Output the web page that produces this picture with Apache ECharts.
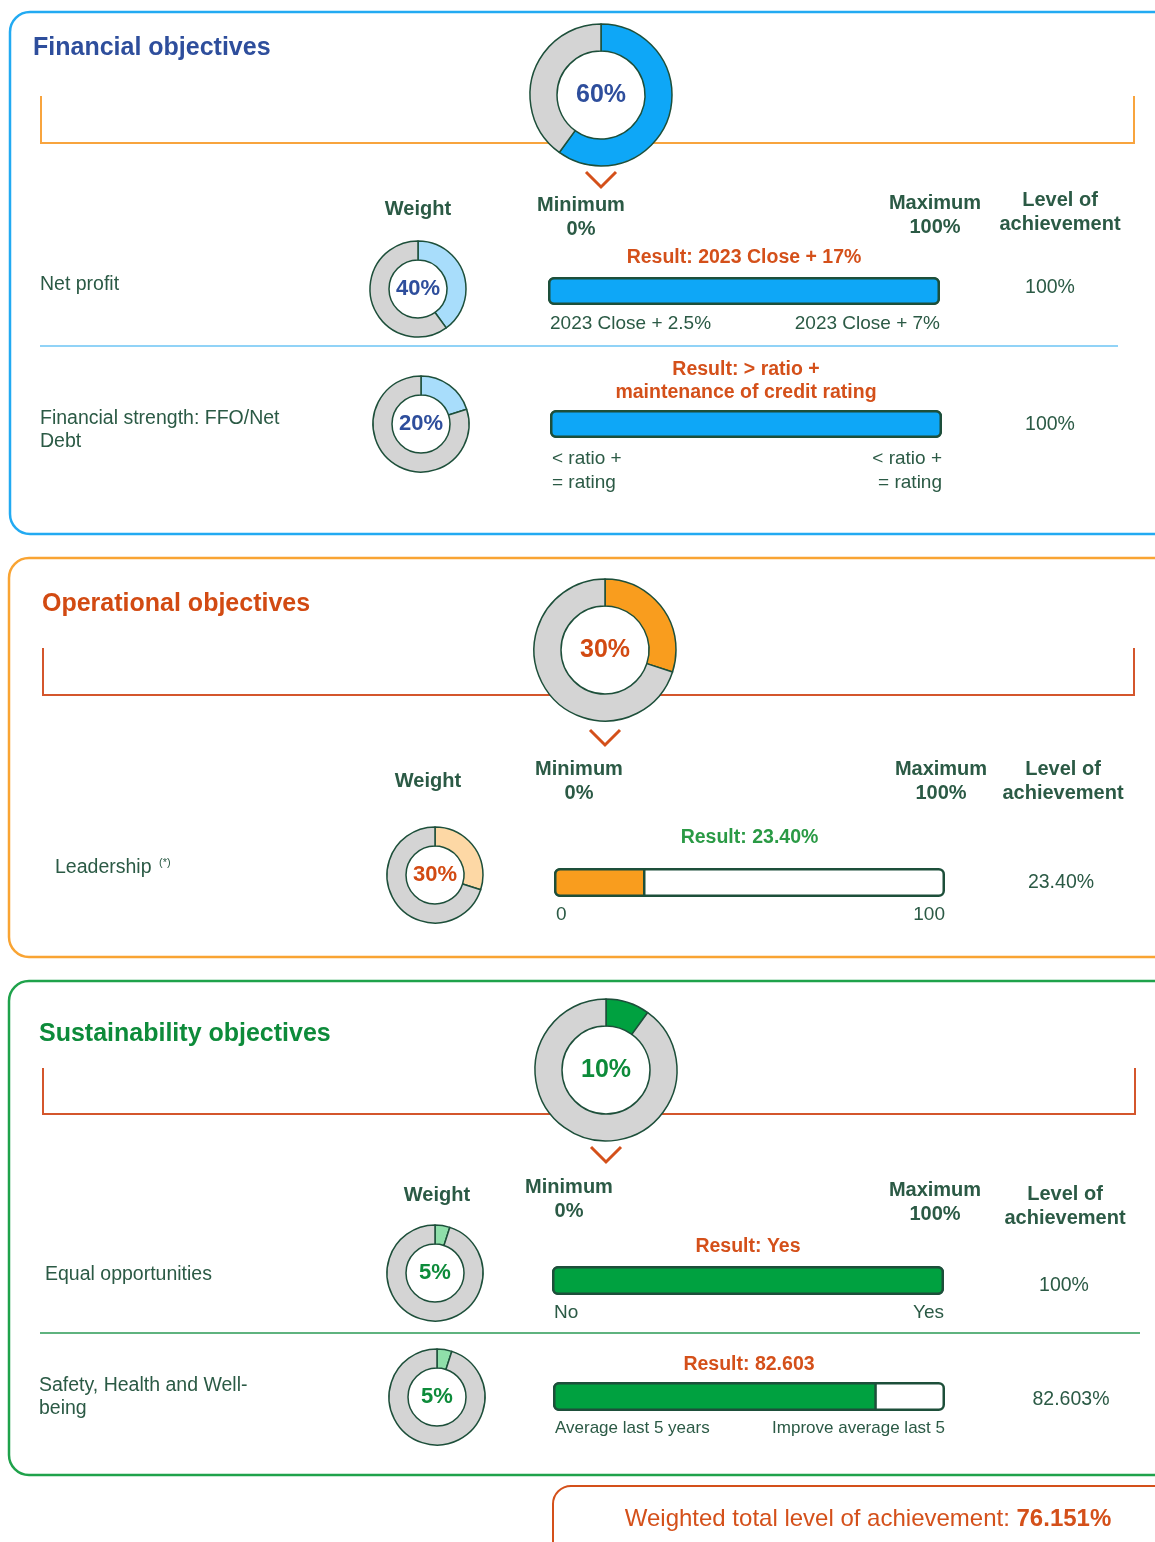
<!DOCTYPE html>
<html>
<head>
<meta charset="utf-8">
<script src="https://cdn.jsdelivr.net/npm/echarts@6/dist/echarts.min.js"></script>
<style>
  html, body { margin: 0; padding: 0; background: #fff; }
  #container { width: 1155px; height: 1542px; }
</style>
</head>
<body>
<div id="container"></div>
<script>
// ---- data ----
var sectionNames = ['Financial objectives', 'Operational objectives', 'Sustainability objectives'];
var sectionWeights = [60, 30, 10];
var itemNames = ['Net profit', 'Financial strength: FFO/Net\nDebt', 'Leadership', 'Equal opportunities', 'Safety, Health and Well-\nbeing'];
var itemSection = [0, 0, 1, 2, 2];
var itemWeights = [40, 20, 30, 5, 5];
var itemResults = [100, 100, 23.40, 100, 82.603];
var resultLabels = ['Result: 2023 Close + 17%', 'Result: > ratio +\nmaintenance of credit rating', 'Result: 23.40%', 'Result: Yes', 'Result: 82.603'];
var minLabels = ['2023 Close + 2.5%', '< ratio +\n= rating', '0', 'No', 'Average last 5 years'];
var maxLabels = ['2023 Close + 7%', '< ratio +\n= rating', '100', 'Yes', 'Improve average last 5'];
var achievementLabels = ['100%', '100%', '23.40%', '100%', '82.603%'];
var totalLabel = 'Weighted total level of achievement: ';
var totalValue = '76.151%';
var scaleMax = 100;

// ---- styles / layout ----
var FONT = '"Liberation Sans", Arial, sans-serif';
var TXT = '#2b5a45';
var EDGE = '#1d4f3a';
var GRAY = '#d4d4d4';
var secBorder = ['#22aaf2', '#f9a433', '#1fa24b'];
var secTitle = ['#2e4e9c', '#d24a12', '#0d8b3a'];
var secBracket = ['#f8a43e', '#d4562c', '#d4562c'];
var secFill = ['#0ea7f7', '#f99d1e', '#00a140'];
var secLight = ['#a8ddfb', '#fdd8a5', '#8fdfaa'];

var secLayout = [
  { top: 12, bottom: 534, left: 10, titleX: 33, titleY: 48, bx1: 41, bx2: 1134, bTop: 96, bY: 143, c: [601, 95], chev: 180,
    wX: 418, wY: 209, minX: 581, minY: 217, maxX: 935, maxY: 215, lvX: 1060, lvY: 212 },
  { top: 558, bottom: 957, left: 9, titleX: 42, titleY: 604, bx1: 43, bx2: 1134, bTop: 648, bY: 695, c: [605, 650], chev: 738,
    wX: 428, wY: 781, minX: 579, minY: 781, maxX: 941, maxY: 781, lvX: 1063, lvY: 781 },
  { top: 981, bottom: 1475, left: 9, titleX: 39, titleY: 1034, bx1: 43, bx2: 1135, bTop: 1068, bY: 1114, c: [606, 1070], chev: 1155,
    wX: 437, wY: 1195, minX: 569, minY: 1199, maxX: 935, maxY: 1202, lvX: 1065, lvY: 1206 }
];
var itemLayout = [
  { lx: 40, ly: 285, c: [418, 289], bl: 548, br: 940, bt: 277, bh: 28, ry: 258, uy: 324, ax: 1050, ay: 288, us: 19 },
  { lx: 40, ly: 430, c: [421, 424], bl: 550, br: 942, bt: 410, bh: 28, ry: 381, uy: 471, ax: 1050, ay: 425, us: 19 },
  { lx: 55, ly: 868, c: [435, 875], bl: 554, br: 945, bt: 868, bh: 29, ry: 838, uy: 915, ax: 1061, ay: 883, us: 19 },
  { lx: 45, ly: 1275, c: [435, 1273], bl: 552, br: 944, bt: 1266, bh: 29, ry: 1247, uy: 1313, ax: 1064, ay: 1286, us: 19 },
  { lx: 39, ly: 1397, c: [437, 1397], bl: 553, br: 945, bt: 1382, bh: 29, ry: 1365, uy: 1428, ax: 1071, ay: 1400, us: 17 }
];

function text(x, y, str, size, color, opts) {
  opts = opts || {};
  return {
    type: 'text', x: x, y: y, z: 5, silent: true,
    style: {
      text: str, fill: color,
      font: (opts.bold ? 'bold ' : '') + size + 'px ' + FONT,
      textAlign: opts.align || 'left', textVerticalAlign: 'middle',
      lineHeight: opts.lh || Math.round(size * 1.25)
    }
  };
}

var graphics = [];
var grids = [], xAxes = [], yAxes = [], series = [];

function donut(center, inner, outer, value, fill, label, labelSize, labelColor) {
  series.push({
    type: 'pie', silent: true, center: center, radius: [inner, outer],
    startAngle: 90, clockwise: true, animation: false, z: 3,
    label: { show: false }, labelLine: { show: false },
    itemStyle: { borderColor: EDGE, borderWidth: 1.5 },
    data: [
      { value: value, itemStyle: { color: fill },
        label: { show: true, position: 'center', formatter: label,
          fontFamily: FONT, fontWeight: 'bold', fontSize: labelSize, color: labelColor } },
      { value: scaleMax - value, itemStyle: { color: GRAY } }
    ]
  });
}

// sections
sectionNames.forEach(function (name, s) {
  var L = secLayout[s];
  graphics.push({
    type: 'rect', z: 0, silent: true,
    shape: { x: L.left, y: L.top, width: 1200, height: L.bottom - L.top, r: 20 },
    style: { fill: 'none', stroke: secBorder[s], lineWidth: 2.5 }
  });
  graphics.push(text(L.titleX, L.titleY, name, 25, secTitle[s], { bold: true }));
  graphics.push({
    type: 'polyline', z: 0, silent: true,
    shape: { points: [[L.bx1, L.bTop], [L.bx1, L.bY], [L.bx2, L.bY], [L.bx2, L.bTop]] },
    style: { fill: 'none', stroke: secBracket[s], lineWidth: 2 }
  });
  graphics.push({
    type: 'circle', z: 1, silent: true,
    shape: { cx: L.c[0], cy: L.c[1], r: 44 },
    style: { fill: '#fff' }
  });
  graphics.push({
    type: 'polyline', z: 1, silent: true,
    shape: { points: [[L.c[0] - 15, L.chev - 8], [L.c[0], L.chev + 7], [L.c[0] + 15, L.chev - 8]] },
    style: { fill: 'none', stroke: '#d4501a', lineWidth: 3 }
  });
  graphics.push(text(L.wX, L.wY, 'Weight', 20, TXT, { bold: true, align: 'center' }));
  graphics.push(text(L.minX, L.minY, 'Minimum\n0%', 20, TXT, { bold: true, align: 'center', lh: 24 }));
  graphics.push(text(L.maxX, L.maxY, 'Maximum\n100%', 20, TXT, { bold: true, align: 'center', lh: 24 }));
  graphics.push(text(L.lvX, L.lvY, 'Level of\nachievement', 20, TXT, { bold: true, align: 'center', lh: 24 }));
  donut(L.c, 44, 71, sectionWeights[s], secFill[s], sectionWeights[s] + '%', 25, secTitle[s]);
});

// items
itemNames.forEach(function (name, i) {
  var L = itemLayout[i];
  var s = itemSection[i];
  graphics.push(text(L.lx, L.ly, name, 19.5, TXT, { lh: 23 }));
  graphics.push(text((L.bl + L.br) / 2, L.ry, resultLabels[i], 19.5,
    i === 2 ? '#2a9a45' : '#d4501a', { bold: true, align: 'center', lh: 23 }));
  graphics.push(text(L.bl + 2, L.uy, minLabels[i], L.us, TXT, { lh: 24 }));
  graphics.push(text(L.br, L.uy, maxLabels[i], L.us, TXT, { align: 'right', lh: 24 }));
  graphics.push(text(L.ax, L.ay, achievementLabels[i], 19.5, TXT, { align: 'center' }));
  donut(L.c, 29, 48, itemWeights[i], secLight[s], itemWeights[i] + '%', 22, secTitle[s]);

  grids.push({ left: L.bl, top: L.bt, width: L.br - L.bl, height: L.bh, containLabel: false });
  xAxes.push({ gridIndex: i, type: 'value', min: 0, max: scaleMax, show: false });
  yAxes.push({ gridIndex: i, type: 'category', data: [name], show: false });
  series.push({
    type: 'bar', xAxisIndex: i, yAxisIndex: i, silent: true, animation: false,
    barWidth: L.bh, barGap: '-100%', z: 2,
    itemStyle: { color: '#fff', borderColor: EDGE, borderWidth: 2.5, borderRadius: 5 },
    data: [scaleMax]
  });
  series.push({
    type: 'bar', xAxisIndex: i, yAxisIndex: i, silent: true, animation: false,
    barWidth: L.bh, barGap: '-100%', z: 3,
    itemStyle: { color: secFill[s], borderColor: EDGE, borderWidth: 2.5,
      borderRadius: itemResults[i] >= scaleMax ? 5 : [5, 0, 0, 5] },
    data: [itemResults[i]]
  });
});

// superscript after "Leadership"
graphics.push(text(159, 863, '(*)', 11, TXT));

// separators
graphics.push({ type: 'line', z: 0, silent: true, shape: { x1: 40, y1: 346, x2: 1118, y2: 346 },
  style: { stroke: '#6cc5f5', lineWidth: 1.5 } });
graphics.push({ type: 'line', z: 0, silent: true, shape: { x1: 40, y1: 1333, x2: 1140, y2: 1333 },
  style: { stroke: '#2a9a55', lineWidth: 1.5 } });

// total box
graphics.push({
  type: 'rect', z: 0, silent: true,
  shape: { x: 553, y: 1486, width: 700, height: 120, r: 18 },
  style: { fill: 'none', stroke: '#d4501a', lineWidth: 2 }
});
graphics.push({
  type: 'text', x: 868, y: 1519, z: 5, silent: true,
  style: {
    text: '{n|' + totalLabel + '}{b|' + totalValue + '}',
    textAlign: 'center', textVerticalAlign: 'middle',
    rich: {
      n: { fontFamily: FONT, fontSize: 24, fill: '#d4501a', color: '#d4501a' },
      b: { fontFamily: FONT, fontSize: 24, fontWeight: 'bold', fill: '#d4501a', color: '#d4501a' }
    }
  }
});

var dom = document.getElementById('container');
var myChart = echarts.init(dom);
var option = {
  animation: false,
  grid: grids,
  xAxis: xAxes,
  yAxis: yAxes,
  series: series,
  graphic: { elements: graphics }
};
myChart.setOption(option, true);
</script>
</body>
</html>
